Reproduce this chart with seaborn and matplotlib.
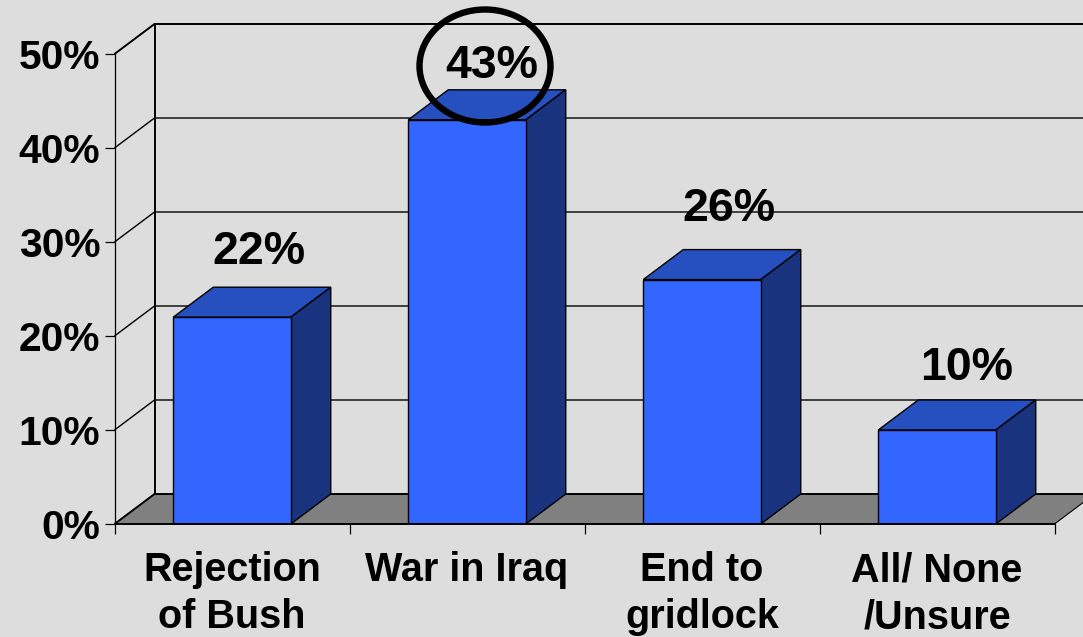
import matplotlib.pyplot as plt
from matplotlib.patches import Ellipse
import pandas as pd
import seaborn as sns

categories = ['Rejection\nof Bush', 'War in Iraq', 'End to\ngridlock', 'All/ None\n/Unsure']
shares = [22, 43, 26, 10]
y_ticks = [0, 10, 20, 30, 40, 50]

# hand placed label offsets from the bar top centre, in points
label_offsets = [(19.5, 47), (17.5, 38.5), (19.5, 51), (21.5, 45)]

W, H = 1083, 637
BG = '#DDDDDD'
FRONT = '#3366FF'
TOP = '#2650BF'
SIDE = '#1A337F'
FLOOR = '#808080'

sns.set_theme(style='white')
plt.rcParams['font.family'] = ['Liberation Sans', 'DejaVu Sans']
plt.rcParams['font.weight'] = 'bold'

fig = plt.figure(figsize=(W / 100, H / 100), dpi=100, facecolor=BG)
ax = fig.add_axes([114.5 / W, 1 - 524 / H, 940 / W, 470 / H])
ax.patch.set_alpha(0)

df = pd.DataFrame({'category': categories, 'share': shares})
sns.barplot(data=df, x='category', y='share', color=FRONT, saturation=1, width=0.5,
            edgecolor='black', linewidth=1.0, zorder=5, ax=ax)
ax.set_xlim(-0.5, 3.5)
ax.set_ylim(0, 50)
ax.set_xlabel('')
ax.set_ylabel('')
bars = list(ax.containers[0])

# depth of the fake 3d box, 40px right and 30px up
dx = 40 / 235
dy = 30 / 9.4
x0, x1 = ax.get_xlim()

# floor and back wall
ax.fill([x0, x0 + dx, x1 + dx, x1], [0, dy, dy, 0], color=FLOOR, lw=0, zorder=1, clip_on=False)
for v in y_ticks:
    lw = 1.4 if v in (0, 50) else 1.0
    ax.plot([x0, x0 + dx, x1 + dx], [v, v + dy, v + dy], color='black', lw=lw, zorder=2,
            clip_on=False, solid_capstyle='butt')
ax.plot([x0 + dx, x0 + dx], [dy, 50 + dy], color='black', lw=1.4, zorder=2, clip_on=False)
ax.plot([x1, x1 + dx], [0, dy], color='black', lw=0.8, zorder=2, clip_on=False)

# top and side faces of each bar
for bar in bars:
    left = bar.get_x()
    right = left + bar.get_width()
    h = bar.get_height()
    ax.fill([left, left + dx, right + dx, right], [h, h + dy, h + dy, h],
            facecolor=TOP, edgecolor='black', lw=1.0, zorder=4, clip_on=False)
    ax.fill([right, right + dx, right + dx, right], [0, dy, h + dy, h],
            facecolor=SIDE, edgecolor='black', lw=1.0, zorder=4, clip_on=False)

for i, v in enumerate(shares):
    ax.annotate(f'{v}%', (i, v), xytext=label_offsets[i], textcoords='offset points',
                ha='center', va='center', fontsize=33.5, fontweight='bold', color='black', zorder=7,
                annotation_clip=False)

ax.set_yticks(y_ticks)
ax.set_yticklabels([f'{v}%' for v in y_ticks])
ax.set_xticks(range(len(categories)))
ax.set_xticklabels(categories, linespacing=1.3)
ax.set_xticks([-0.5, 0.5, 1.5, 2.5, 3.5], minor=True)
ax.tick_params(axis='y', which='major', left=True, length=7.2, width=0.9, pad=3, labelsize=29.3, color='black',
               labelcolor='black')
ax.tick_params(axis='x', which='major', bottom=False, length=0, pad=19.5, labelsize=28.5, labelcolor='black')
ax.tick_params(axis='x', which='minor', bottom=True, length=7.2, width=0.9, color='black')

for side in ['top', 'right']:
    ax.spines[side].set_visible(False)
ax.spines['left'].set_color('black')
ax.spines['left'].set_linewidth(0.9)
ax.spines['bottom'].set_color('black')
ax.spines['bottom'].set_linewidth(1.4)
ax.spines['bottom'].set_zorder(6)

# the circle drawn around the 43% label
fig.add_artist(Ellipse((485 / W, 1 - 66 / H), 131 / W, 113 / H, transform=fig.transFigure,
                       fill=False, edgecolor='black', lw=4.6, zorder=10))

fig.savefig('out.png', dpi=100, facecolor=BG)
